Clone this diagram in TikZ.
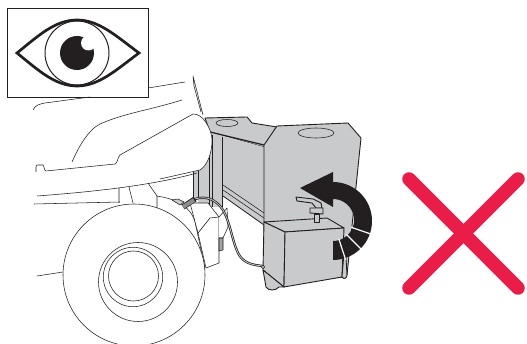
\documentclass[tikz,border=0pt]{standalone}
\usepackage{xcolor}
\definecolor{tankgray}{HTML}{C9CACC}
\definecolor{crossred}{HTML}{EA1D48}
\definecolor{inkblack}{HTML}{231F20}
\begin{document}
\begin{tikzpicture}[
    x=1pt, y=-1pt,
    thinline/.style={draw=inkblack, line width=0.55pt, line join=round},
    tankline/.style={draw=inkblack, line width=0.9pt, fill=tankgray, line join=round},
    crossbar/.style={draw=crossred, line width=13.5pt, line cap=round},
  ]
  \useasboundingbox (0,0) rectangle (527,344);

  % eye box
  \draw[draw=inkblack, line width=0.9pt, fill=white] (7,8) rectangle (148,97);
  \draw[draw=inkblack, line width=2.7pt, line join=miter]
    (17,53) .. controls (38,36) and (55,20) .. (77,20)
    .. controls (99,20) and (116,36) .. (139,53)
    .. controls (116,70) and (99,86) .. (77,86)
    .. controls (55,86) and (38,70) .. (17,53) -- cycle;
  \draw[draw=inkblack, line width=1pt] (77,53) circle[radius=32];
  \fill[inkblack] (77,53) circle[radius=17];
  \fill[white] (88.5,43) circle[radius=7.5];

  % back tank
  \fill[tankgray] (193,165) rectangle (223,200);
  \path[tankline] (205,118) -- (247,117) -- (252,123) -- (277,127) -- (264,147) -- (210,132) -- cycle;
  \fill[tankgray] (210,132) -- (264,147) -- (264,225) -- (223,196) -- (223,207) -- (198,207) -- (198,132) -- cycle;
  \draw[thinline] (227,123) ellipse[x radius=11, y radius=3.5];
  \draw[draw=inkblack, line width=1.2pt] (210,132) -- (264,145);
  \draw[thinline] (222,137) -- (222,207) (212,135) -- (212,207) (209,140) -- (209,205)
    (193,172) -- (193,197) (198,170) -- (198,197);
  \draw[thinline] (223,185) -- (264,213) (223,190) -- (264,218);
  \draw[draw=inkblack, line width=0.8pt] (223,196) -- (264,225);

  % main tank
  \path[tankline] (264,145) -- (277,126) -- (348,123) -- (361,138) -- (347,275) -- (342,277) -- (280,285) -- (264,265) -- cycle;
  \draw[thinline] (316,133) ellipse[x radius=18, y radius=5];

  % lower box
  \path[tankline] (264,222) -- (327,218) -- (344,228) -- (285,232) -- cycle;
  \path[tankline] (264,222) -- (285,232) -- (284,287) -- (263,270) -- cycle;
  \path[tankline] (285,232) -- (344,228) -- (342,277) -- (284,287) -- cycle;
  \path[tankline] (263,270) -- (266,287) .. controls (268,291) and (276,291) .. (279,287) -- (284,287) -- cycle;
  \path[tankline] (342,277) .. controls (344,280) and (347,278) .. (347,275) -- (345,240) -- cycle;

  % valve
  \draw[tankline] (296,197) -- (313,199) -- (321,203) -- (322,208) -- (316,208) -- (312,203) -- (297,201) -- cycle;
  \draw[tankline] (310,208) -- (323,208) -- (323,214) -- (310,213) -- cycle;
  \draw[tankline] (314,214) rectangle (319,222);

  % turn arrow
  \fill[inkblack] (300,188) -- (333,172) -- (333,182)
    -- plot[domain=90:-90, samples=40] ({333+39*cos(\x)},{221-39*sin(\x)})
    -- plot[domain=-90:90, samples=40] ({333+21*cos(\x)},{220-21*sin(\x)})
    -- (333,207) -- cycle;
  \foreach \ang in {-19,-45,-72}
    \draw[white, line width=1.2pt] ({333+19*cos(\ang)},{221-19*sin(\ang)}) -- ({333+41*cos(\ang)},{221-41*sin(\ang)});

  % hood
  \path[fill=white] (36,172) -- (117,163) -- (119,155) -- (193,114)
    .. controls (203,113) and (212,130) .. (212,140)
    .. controls (212,152) and (208,165) .. (200,170) -- (160,179) -- (36,179) -- cycle;
  \draw[thinline] (36,172) -- (36,167) .. controls (36,165) and (37,165) .. (38,165) -- (43,165)
    .. controls (44,165) and (44,171) .. (46,171) -- (115,164) .. controls (118,163) and (117,158) .. (120,155) -- (193,114)
    .. controls (203,113) and (212,130) .. (212,140)
    .. controls (212,152) and (208,165) .. (200,170) -- (160,179);
  \draw[thinline] (33,110) .. controls (35,105) and (40,104) .. (45,103) -- (90,97);
  \draw[thinline] (148,88) -- (185,82);
  \draw[thinline] (72,162) .. controls (78,148) and (88,130) .. (100,124) .. controls (125,113) and (150,110) .. (182,100);
  \draw[thinline] (193,76) -- (203,115) (193,76) -- (194,86) -- (201,112);
  \draw[thinline] (37,196) .. controls (90,192) and (150,186) .. (197,173);
  \draw[thinline] (34,204) -- (120,202);
  \draw[thinline] (119,188) -- (119,203) (129,187) -- (133,203) (148,183) -- (157,196);

  % fender and bracket
  \draw[thinline, fill=white] (157,196) .. controls (175,199) and (190,205) .. (195,222) -- (205,268) -- (190,275) -- (157,275) -- cycle;
  \draw[thinline, fill=white] (190,203) -- (208,203) -- (219,217) -- (219,263) -- (206,268) -- (198,233) -- cycle;
  \draw[thinline] (198,233) -- (210,218) -- (219,217);
  \draw[thinline, fill=white] (219,217) -- (227,208) -- (228,227) -- (223,238) -- (219,238);
  \draw[thinline, fill=tankgray!80!black] (219,238) -- (223,238) -- (223,250) -- (219,251) -- cycle;

  % wheel
  \draw[thinline] (37,276) -- (63,272);
  \draw[thinline, fill=white] (134,275) circle[radius=71];
  \draw[thinline] (138,282) circle[radius=39.5];
  \draw[thinline] (133,277) circle[radius=29.7];
  \draw[thinline] (133.5,276) circle[radius=25];

  % hose
  \draw[draw=inkblack, line width=2.3pt, line cap=round]
    (195,199) .. controls (205,196) and (215,198) .. (223,210)
    .. controls (230,222) and (232,240) .. (238,253)
    .. controls (243,263) and (252,265) .. (263,266);
  \draw[draw=tankgray, line width=0.8pt]
    (195,199) .. controls (205,196) and (215,198) .. (223,210)
    .. controls (230,222) and (232,240) .. (238,253)
    .. controls (243,263) and (252,265) .. (263,266);
  \draw[thinline, fill=tankgray] (263,267) circle[radius=1.8];
  \draw[draw=inkblack, line width=5.5pt] (183,207) -- (195,199);
  \draw[draw=tankgray!70!black, line width=4pt] (183,207) -- (194,200);
  \draw[thinline, fill=tankgray] (172,200) -- (178,199) -- (184,202) -- (180,205) -- cycle;

  % red cross
  \draw[crossbar] (409,179) -- (518,288);
  \draw[crossbar] (518,179) -- (409,288);
\end{tikzpicture}
\end{document}
